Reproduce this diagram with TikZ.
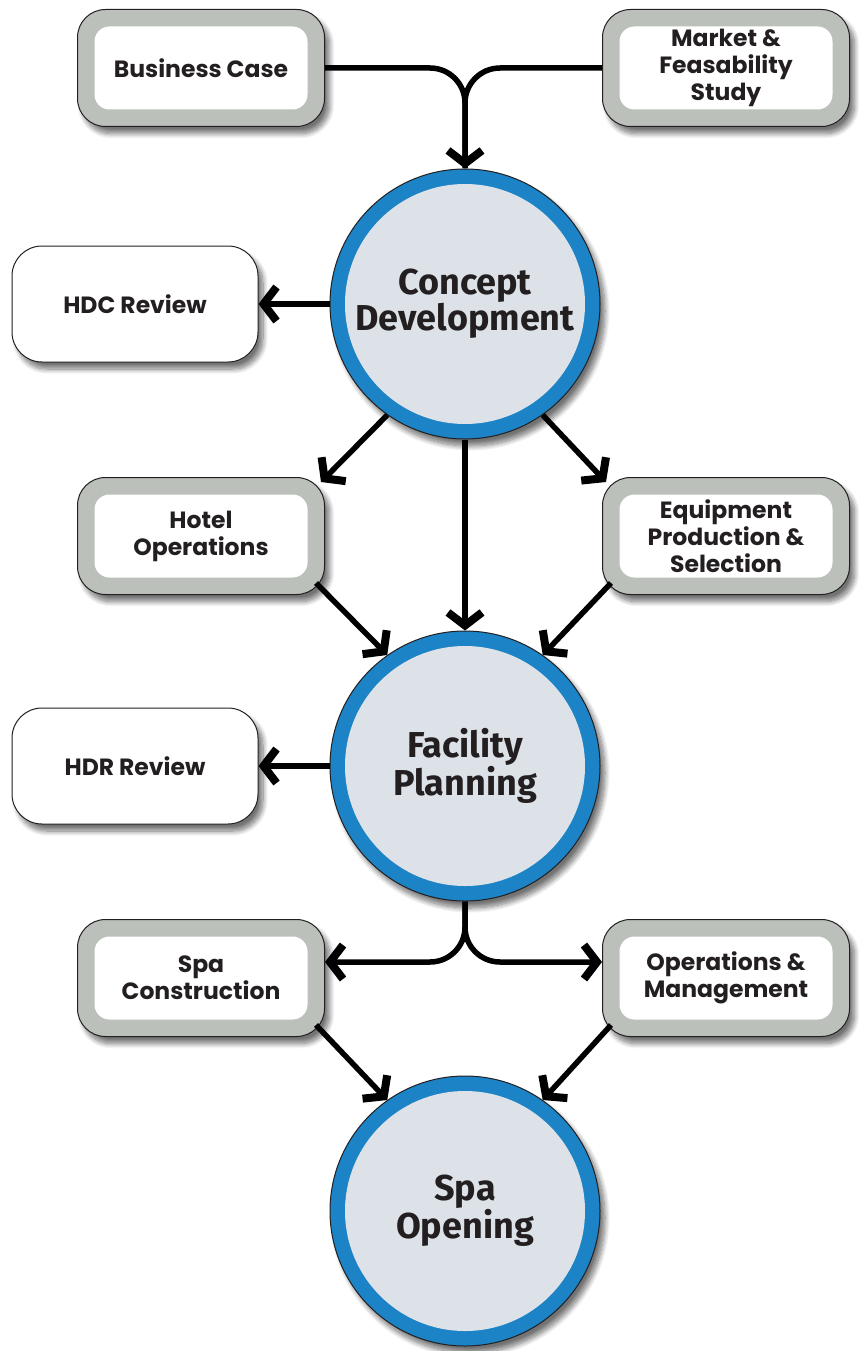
\documentclass[tikz,border=0pt]{standalone}
\usepackage{fontspec}
\setmainfont{Poppins}
\newfontfamily\ringfont{Fira Sans}
\usetikzlibrary{arrows.meta,shadows.blur,calc}

\definecolor{greyBOX}{HTML}{BBC1BA}
\definecolor{blueRING}{HTML}{1C83C6}
\definecolor{paleFILL}{HTML}{DDE2E9}
\definecolor{inkLINE}{HTML}{231F20}

\tikzset{
  softshadow/.style={blur shadow={shadow xshift=5pt, shadow yshift=-7pt,
      shadow blur radius=5pt, shadow blur steps=10, shadow opacity=55}},
  stagebox/.style={rectangle, rounded corners=28pt, minimum width=247pt,
      minimum height=117pt, fill=greyBOX, draw=inkLINE, line width=1pt,
      softshadow, align=center, text=inkLINE,
      font=\bfseries\fontsize{23.5}{27}\selectfont,
      path picture={\fill[white, rounded corners=15pt]
        ($(path picture bounding box.south west)+(17pt,17pt)$) rectangle
        ($(path picture bounding box.north east)+(-17pt,-17pt)$);}},
  reviewbox/.style={rectangle, rounded corners=30pt, minimum width=246pt,
      minimum height=116pt, fill=white, draw=inkLINE, line width=1pt,
      softshadow, align=center, text=inkLINE,
      font=\bfseries\fontsize{23.5}{27}\selectfont},
  phase/.style={circle, minimum size=270pt, inner sep=0pt, fill=blueRING,
      draw=inkLINE, line width=1pt, softshadow, align=center, text=inkLINE,
      font=\ringfont\bfseries\fontsize{36}{33}\selectfont,
      path picture={\fill[paleFILL] (path picture bounding box.center)
        circle (120pt);}},
  flow/.style={draw=black, line width=5.5pt,
      -{Straight Barb[length=13pt, width=34pt, line width=8pt]}},
  feed/.style={draw=black, line width=5.5pt}
}

\begin{document}
\begin{tikzpicture}[x=1pt, y=-1pt]
\useasboundingbox (0,0) rectangle (864,1351);

% inputs
\node[stagebox] (bizcase) at (201,68) {Business Case};
\node[stagebox] (market) at (726,68) {Market \&\\Feasability\\Study};

% main phases
\node[phase] (concept) at (465,304) {Concept\\Development};
\node[phase] (facility) at (465,766) {Facility\\Planning};
\node[phase] (spaopen) at (465,1211) {Spa\\Opening};

% reviews
\node[reviewbox] (hdc) at (135,304) {HDC Review};
\node[reviewbox] (hdr) at (135,766) {HDR Review};

% side streams
\node[stagebox] (hotelops) at (201,536) {Hotel\\Operations};
\node[stagebox] (equip) at (726,536) {Equipment\\Production \&\\Selection};
\node[stagebox] (spacons) at (201,978) {Spa\\Construction};
\node[stagebox] (opsmgmt) at (726,978) {Operations \&\\Management};

% merge into concept
\draw[feed, rounded corners=35pt] (market.west) -| (concept.north);
\draw[flow, rounded corners=35pt] (bizcase.east) -| (concept.north);

\draw[flow] (concept.west) -- (hdc.east);
\draw[flow] (concept.235) -- ($(hotelops.north east)+(-4,5)$);
\draw[flow] (concept.-55) -- ($(equip.north west)+(4,5)$);
\draw[flow] (concept.south) -- (facility.north);

\draw[flow] ($(hotelops.south east)+(-9,-12)$) -- (facility.125);
\draw[flow] ($(equip.south west)+(9,-12)$) -- (facility.55);

\draw[flow] (facility.west) -- (hdr.east);
\draw[flow, rounded corners=35pt] (facility.south) |- ($(spacons.east)+(0,-16)$);
\draw[flow, rounded corners=35pt] (facility.south) |- ($(opsmgmt.west)+(0,-16)$);

\draw[flow] ($(spacons.south east)+(-9,-12)$) -- (spaopen.125);
\draw[flow] ($(opsmgmt.south west)+(9,-12)$) -- (spaopen.55);
\end{tikzpicture}
\end{document}
